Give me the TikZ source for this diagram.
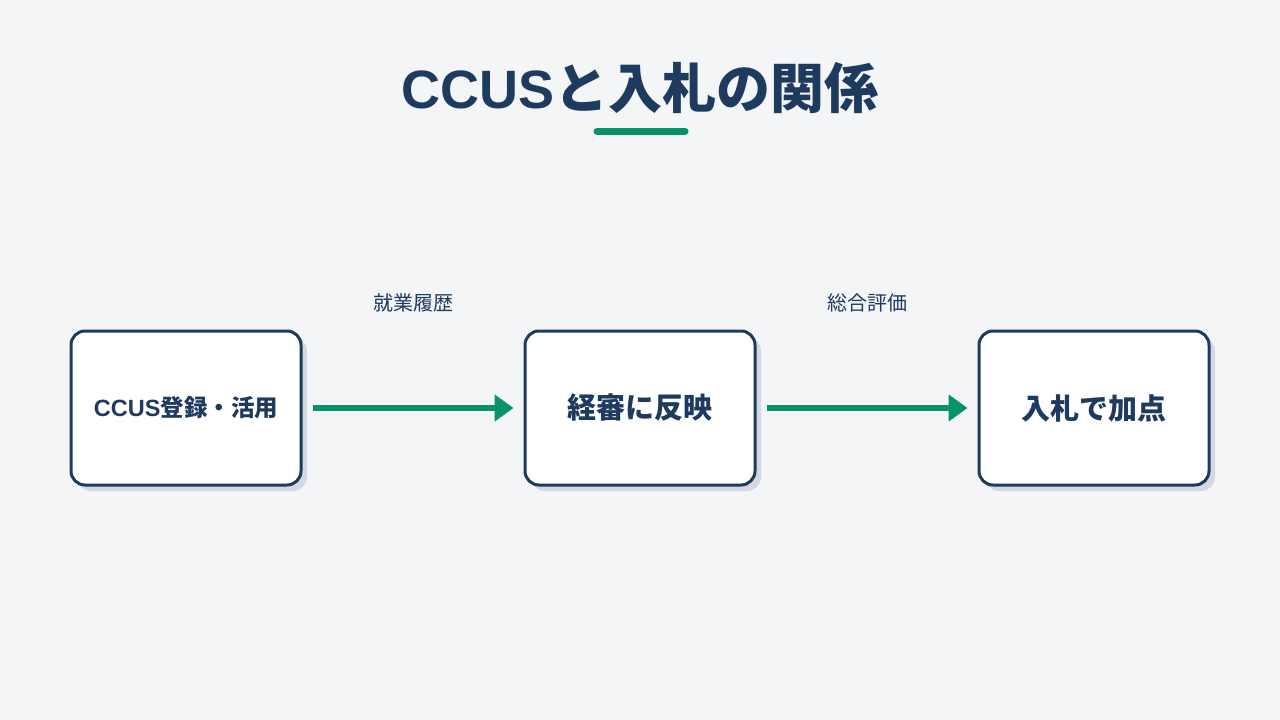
\documentclass[tikz,border=0pt]{standalone}
\usepackage{fontspec}
\setmainfont{Noto Sans CJK JP}
\newfontfamily\lat{Liberation Sans}
\usetikzlibrary{arrows.meta}
\definecolor{bg}{HTML}{F3F5F7}
\definecolor{navy}{HTML}{1F3A5F}
\definecolor{grn}{HTML}{07936A}
\definecolor{shad}{HTML}{D3D8E2}
\tikzset{
  stepbox/.style={draw=navy, line width=3pt, fill=white, rounded corners=14pt,
    minimum width=230pt, minimum height=154pt, inner sep=0pt, text=navy,
    font=\bfseries\fontsize{29}{32}\selectfont},
  shadowbox/.style={fill=shad, rounded corners=14pt, minimum width=230pt, minimum height=154pt, inner sep=0pt},
  flow/.style={draw=grn, line width=6pt, -{Triangle[length=19pt,width=26pt]}},
  lbl/.style={text=navy, font=\fontsize{20}{23}\selectfont}
}
\begin{document}
\begin{tikzpicture}[x=1pt,y=-1pt]
\fill[bg] (0,0) rectangle (1280,720);
\useasboundingbox (0,0) rectangle (1280,720);
\node[text=navy, font=\bfseries\fontsize{54}{60}\selectfont] (title) at (640,88) {{\lat\bfseries CCUS}と入札の関係};
\coordinate (ul1) at (597,131);
\coordinate (ul2) at (685,131);
\draw[grn, line width=7pt, line cap=round] (ul1) -- (ul2);
% shadows
\node[shadowbox] at (192,414) {};
\node[shadowbox] at (646,414) {};
\node[shadowbox] at (1100,414) {};
% boxes
\node[stepbox, font=\bfseries\fontsize{23.5}{27}\selectfont] (b1) at (186,408) {{\lat\bfseries CCUS}登録・活用};
\node[stepbox] (b2) at (640,408) {経審に反映};
\node[stepbox] (b3) at (1094,408) {入札で加点};
\draw[flow] ([xshift=10pt]b1.east) -- ([xshift=-10pt]b2.west);
\draw[flow] ([xshift=10pt]b2.east) -- ([xshift=-10pt]b3.west);
\node[lbl] (l1) at (413,303) {就業履歴};
\node[lbl] (l2) at (867,303) {総合評価};
\end{tikzpicture}
\end{document}
